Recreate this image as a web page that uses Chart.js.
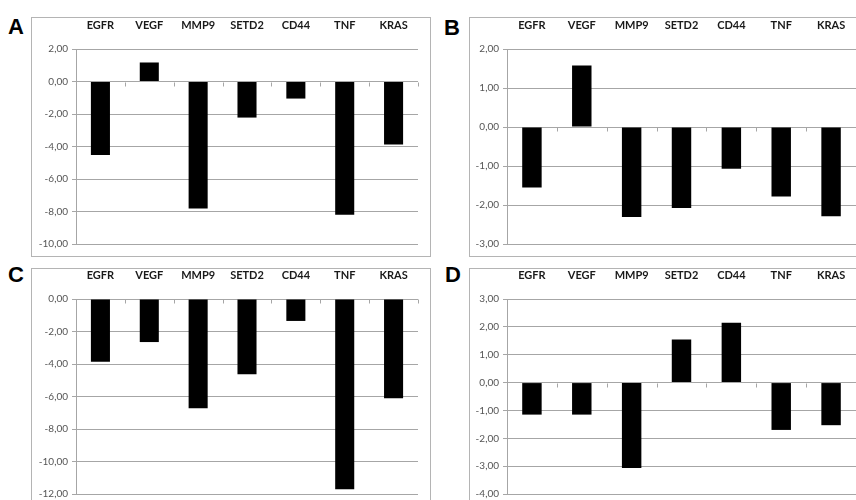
<!DOCTYPE html>
<html>
<head>
<meta charset="utf-8">
<script src="https://cdn.jsdelivr.net/npm/chart.js@4.4.1/dist/chart.umd.min.js"></script>
<style>
  html, body { margin: 0; padding: 0; background: #fff; }
  body { width: 856px; height: 500px; overflow: hidden; position: relative; }
  .panel { position: absolute; width: 400px; height: 240px; }
  .letter { position: absolute; font-family: "Liberation Sans", Arial, sans-serif; font-weight: bold;
            font-size: 22px; line-height: 22px; color: #000; }
</style>
</head>
<body>
<div class="letter" style="left:8px; top:16px;">A</div>
<div class="letter" style="left:444px; top:17px;">B</div>
<div class="letter" style="left:8px; top:264px;">C</div>
<div class="letter" style="left:445px; top:264px;">D</div>

<div class="panel" style="left:31px; top:17px;"><canvas id="cA"></canvas></div>
<div class="panel" style="left:469px; top:17px;"><canvas id="cB"></canvas></div>
<div class="panel" style="left:31px; top:268px;"><canvas id="cC"></canvas></div>
<div class="panel" style="left:469px; top:268px;"><canvas id="cD"></canvas></div>

<script>
// ---- data ----
const categories = ["EGFR", "VEGF", "MMP9", "SETD2", "CD44", "TNF", "KRAS"];
const valuesA = [-4.52, 1.17, -7.82, -2.22, -1.05, -8.20, -3.87];
const valuesB = [-1.55, 1.58, -2.31, -2.08, -1.07, -1.78, -2.29];
const valuesC = [-3.86, -2.65, -6.73, -4.63, -1.35, -11.70, -6.10];
const valuesD = [-1.15, -1.15, -3.07, 1.55, 2.15, -1.70, -1.53];
// y-axis ranges: [min, max, step]
const rangeA = [-10, 2, 2];
const rangeB = [-3, 2, 1];
const rangeC = [-12, 0, 2];
const rangeD = [-4, 3, 1];

const GRID = '#a6a6a6';

const framePlugin = {
  id: 'frame',
  beforeDraw(chart) {
    const ctx = chart.ctx;
    ctx.save();
    ctx.strokeStyle = '#b4b4b4';
    ctx.lineWidth = 1;
    ctx.strokeRect(0.5, 0.5, chart.width - 1, chart.height - 1);
    ctx.restore();
  },
  afterDraw(chart) {
    const xs = chart.scales.x, ys = chart.scales.y;
    const y0 = Math.round(ys.getPixelForValue(0)) + 0.5;
    const n = chart.data.labels.length;
    const ctx = chart.ctx;
    ctx.save();
    ctx.strokeStyle = GRID;
    ctx.lineWidth = 1;
    ctx.beginPath();
    for (let i = 1; i <= n; i++) {
      const x = Math.round(xs.left + i * xs.width / n) + 0.5;
      ctx.moveTo(x, y0);
      ctx.lineTo(x, y0 + 4);
    }
    ctx.stroke();
    ctx.restore();
  }
};

function makePanel(id, values, range, yWidth, topH) {
  const plotH = 195;
  new Chart(document.getElementById(id), {
    type: 'bar',
    data: {
      labels: categories,
      datasets: [{
        data: values,
        backgroundColor: '#000',
        borderWidth: 0,
        barPercentage: 0.39,
        categoryPercentage: 1.0
      }]
    },
    options: {
      responsive: true,
      maintainAspectRatio: false,
      animation: false,
      events: [],
      layout: { padding: { left: 0, right: 13, top: 0, bottom: 240 - topH - plotH } },
      plugins: { legend: { display: false }, tooltip: { enabled: false } },
      scales: {
        x: {
          position: 'top',
          offset: true,
          grid: { display: false },
          border: { display: false },
          ticks: {
            color: '#1a1a1a',
            font: { family: 'Lato', weight: 'bold', size: 11 },
            padding: 9,
            maxRotation: 0,
            autoSkip: false
          },
          afterFit(axis) { axis.height = topH; }
        },
        y: {
          min: range[0],
          max: range[1],
          grid: { color: GRID, lineWidth: 1, drawTicks: true, tickLength: 4, tickColor: GRID },
          border: { display: true, color: GRID },
          ticks: {
            stepSize: range[2],
            color: '#555',
            font: { family: 'Lato', size: 10 },
            padding: 4,
            callback: v => Number(v).toFixed(2).replace('.', ',')
          },
          afterFit(axis) { axis.width = yWidth; }
        }
      }
    },
    plugins: [framePlugin]
  });
}

makePanel('cA', valuesA, rangeA, 45, 32);
makePanel('cB', valuesB, rangeB, 38, 32);
makePanel('cC', valuesC, rangeC, 45, 31);
makePanel('cD', valuesD, rangeD, 38, 31);
</script>
</body>
</html>
